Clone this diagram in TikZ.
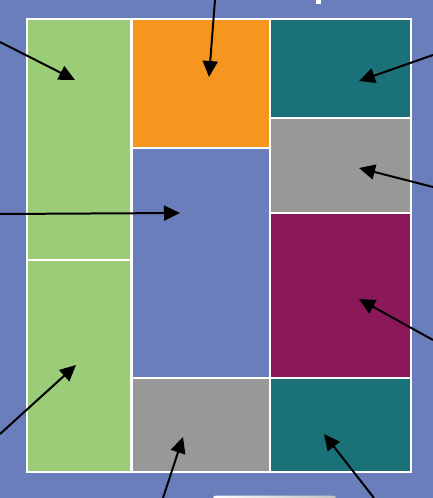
\documentclass[tikz,border=0pt]{standalone}
\usepackage{tikz}
\usetikzlibrary{arrows.meta}
\definecolor{bgblue}{RGB}{106,126,187}
\definecolor{leaf}{RGB}{155,205,120}
\definecolor{amber}{RGB}{247,150,30}
\definecolor{teal}{RGB}{26,114,120}
\definecolor{stone}{RGB}{152,152,152}
\definecolor{plum}{RGB}{139,24,88}

\begin{document}
\begin{tikzpicture}[x=1pt, y=-1pt,
    cell/.style={draw=white, line width=2.2pt, inner sep=0pt, outer sep=0pt},
    arr/.style={-{Triangle[length=16pt, width=15pt]}, line width=2pt, black}]
    \clip (0,0) rectangle (433,498);
    \fill[bgblue] (0,0) rectangle (433,498);
    % partial marks at the edges
    \fill[white] (316,-2) rectangle (321,4);
    \shade[left color=white, right color=stone!60, rounded corners=3pt] (213,495.5) rectangle (336,506);
    % left column
    \node[cell, fill=leaf, minimum width=104.5pt, minimum height=241pt] (gA) at (79.25,139.5) {};
    \node[cell, fill=leaf, minimum width=104.5pt, minimum height=212pt] (gB) at (79.25,366) {};
    % middle column
    \node[cell, fill=amber, minimum width=138.5pt, minimum height=129pt] (or) at (200.75,83.5) {};
    \node[cell, fill=bgblue, minimum width=138.5pt, minimum height=230pt] (bl) at (200.75,263) {};
    \node[cell, fill=stone, minimum width=138.5pt, minimum height=94pt] (gy1) at (200.75,425) {};
    % right column
    \node[cell, fill=teal, minimum width=141pt, minimum height=99pt] (tl1) at (340.5,68.5) {};
    \node[cell, fill=stone, minimum width=141pt, minimum height=95pt] (gy2) at (340.5,165.5) {};
    \node[cell, fill=plum, minimum width=141pt, minimum height=165pt] (pu) at (340.5,295.5) {};
    \node[cell, fill=teal, minimum width=141pt, minimum height=94pt] (tl2) at (340.5,425) {};
    % pointers
    \foreach \sx/\sy/\tx/\ty [count=\i] in {0/42/75/80, 215/0/209/77, 433/55/359/81,
        0/214/180/213, 433/187/359/168, 433/340/359/299,
        0/434/76/365, 163/498/183/437, 374/498/324/434} {
        \coordinate (s\i) at (\sx,\sy);
        \coordinate (t\i) at (\tx,\ty);
        \draw[arr] (s\i) -- (t\i);
    }
\end{tikzpicture}
\end{document}
